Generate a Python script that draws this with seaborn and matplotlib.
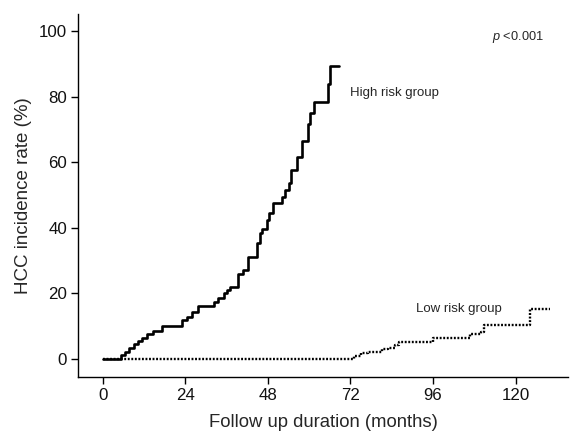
import numpy as np
import pandas as pd
import seaborn as sns
import matplotlib.pyplot as plt

# step points (month, cumulative incidence %)
high_months = [0, 5.3, 6.5, 7.7, 9.2, 10.2, 11.5, 13.0, 14.5, 17.1,
               23.0, 24.4, 25.9, 27.8, 32.2, 33.6, 35.1, 36.0, 37.0,
               39.4, 40.9, 42.3, 44.8, 45.7, 46.4, 47.7, 48.4, 49.6,
               52.0, 53.0, 54.0, 54.6, 56.4, 57.8, 59.8, 60.3, 61.5,
               65.6, 66.1, 68.8]
high_rate = [0, 1.2, 2.3, 3.5, 4.5, 5.5, 6.5, 7.5, 8.5, 10.0,
             11.9, 12.9, 14.4, 16.2, 17.5, 18.5, 20.0, 21.0, 22.0,
             25.9, 27.1, 31.0, 35.3, 38.3, 39.8, 42.4, 44.4, 47.5,
             49.5, 51.5, 53.6, 57.6, 61.7, 66.5, 71.8, 74.9, 78.4,
             84.0, 89.3, 89.3]

low_months = [0, 72.9, 75.0, 77.0, 81.1, 83.0, 85.0, 86.0, 96.1,
              106.8, 110.0, 110.8, 124.2, 130.0]
low_rate = [0, 1.0, 2.0, 2.3, 3.0, 3.5, 4.3, 5.3, 6.3,
            7.6, 8.3, 10.4, 15.2, 15.2]

x_ticks = [0, 24, 48, 72, 96, 120]
y_ticks = [0, 20, 40, 60, 80, 100]

high = pd.DataFrame({"month": high_months, "rate": high_rate})
low = pd.DataFrame({"month": low_months, "rate": low_rate})

sns.set_style("ticks")
plt.rcParams['font.family'] = ['Liberation Sans', 'DejaVu Sans']
plt.rcParams['mathtext.fontset'] = 'custom'
plt.rcParams['mathtext.rm'] = 'Liberation Sans'
plt.rcParams['mathtext.it'] = 'Liberation Sans:italic'

fig = plt.figure(figsize=(5.73, 4.32), dpi=100)
ax = fig.add_axes([0.1367, 0.127, 0.855, 0.8407])

sns.lineplot(data=low, x="month", y="rate", ax=ax, color="black",
             linewidth=1.7, linestyle=(0, (0.8, 0.7)), drawstyle="steps-post",
             estimator=None)
sns.lineplot(data=high, x="month", y="rate", ax=ax, color="black",
             linewidth=1.9, drawstyle="steps-post", estimator=None)

ax.set_xlim(-7.1, 135.3)
ax.set_ylim(-5.5, 105.2)
ax.set_xticks(x_ticks)
ax.set_yticks(y_ticks)
ax.tick_params(labelsize=12.2, length=5, width=1, color="black", pad=3,
               labelcolor="#111111")
for s in ["left", "bottom"]:
    ax.spines[s].set_color("black")
    ax.spines[s].set_linewidth(1)
sns.despine(ax=ax)

ax.set_xlabel("Follow up duration (months)", fontsize=13.3, labelpad=7.5)
ax.set_ylabel("HCC incidence rate (%)", fontsize=13.5, labelpad=5)

ax.text(71.9, 81.2, "High risk group", fontsize=9.5, va="center", ha="left")
ax.text(91.1, 15.2, "Low risk group", fontsize=9.5, va="center", ha="left")
ax.text(113.1, 98.3, r"$\it{p}$ <0.001", fontsize=9.2, va="center", ha="left")

fig.savefig("out.png", dpi=100)
